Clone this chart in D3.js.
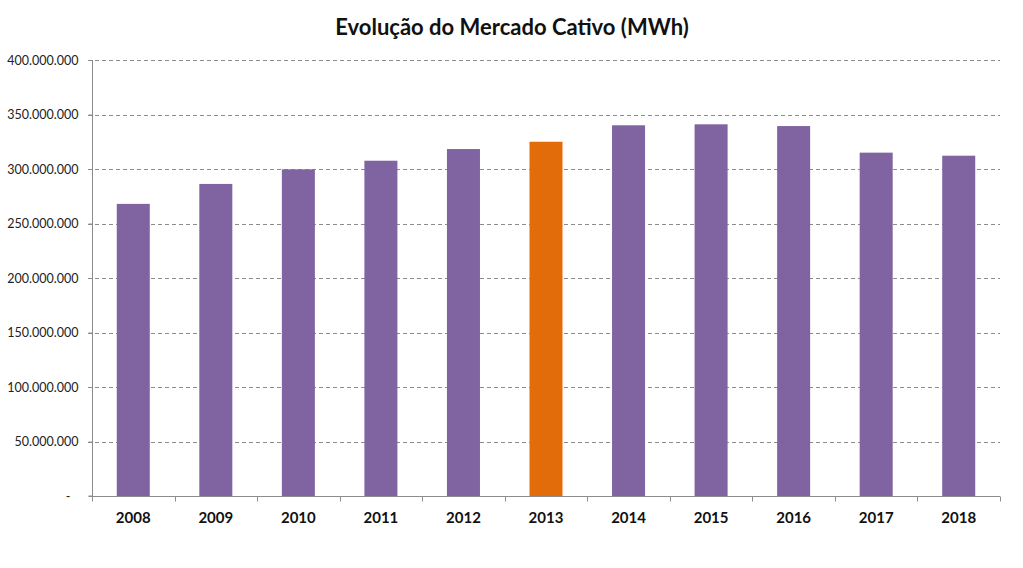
<!DOCTYPE html>
<html><head><meta charset="utf-8">
<script src="https://cdn.jsdelivr.net/npm/d3@7"></script>
<style>body{margin:0;background:#fff}svg{display:block}</style>
</head><body>
<svg id="c" width="1023" height="568"></svg>
<script>
const years = ["2008","2009","2010","2011","2012","2013","2014","2015","2016","2017","2018"];
const values = [268000000,286300000,299700000,307600000,318300000,325000000,340100000,341000000,339400000,315000000,312200000];
const highlightYear = "2013";
const yTicks = [0,50000000,100000000,150000000,200000000,250000000,300000000,350000000,400000000];
const title = "Evolução do Mercado Cativo (MWh)";

const svg = d3.select("#c");
const font = "Lato, 'Open Sans', sans-serif";
const m = {left:92, right:1000, top:60, bottom:496};
const x = d3.scaleBand().domain(years).range([m.left, m.right]).paddingInner(0.6).paddingOuter(0.3);
const y = d3.scaleLinear().domain([0,400000000]).range([m.bottom, m.top]);

const fmt = v => v === 0 ? "-" : d3.format(",")(v).replace(/,/g, ".");

// gridlines
svg.append("g").selectAll("line").data(yTicks.filter(d=>d>0)).join("line")
  .attr("x1", m.left - 4).attr("x2", m.right)
  .attr("y1", d=>Math.round(y(d))+0.5).attr("y2", d=>Math.round(y(d))+0.5)
  .attr("stroke", "#8c8c8c").attr("stroke-dasharray", "4,3").attr("stroke-width", 1);

// y axis
const ya = d3.axisLeft(y).tickValues(yTicks).tickFormat(fmt).tickSize(4).tickPadding(10);
const yg = svg.append("g").attr("transform", `translate(${m.left+0.5},0)`).call(ya);
yg.select(".domain").attr("stroke", "#8c8c8c").attr("d", `M-4,${m.bottom}H0V${m.top}`);
yg.selectAll(".tick line").attr("stroke", "#8c8c8c");
yg.selectAll("text").attr("font-family", font).attr("font-size", 12.5).attr("fill", "#222");
yg.selectAll(".tick").filter(d=>d===0).select("text").attr("dx", -8);

// bars
svg.append("g").selectAll("rect").data(years).join("rect")
  .attr("x", d=>x(d)).attr("width", x.bandwidth())
  .attr("y", (d,i)=>y(values[i])).attr("height", (d,i)=>y(0)-y(values[i]))
  .attr("fill", d=> d===highlightYear ? "#e36c0a" : "#8064a2");

// x axis
const xa = d3.axisBottom(x).tickSize(0).tickPadding(16);
const xg = svg.append("g").attr("transform", `translate(0,${m.bottom+0.5})`).call(xa);
xg.select(".domain").attr("stroke", "#8c8c8c").attr("d", `M${m.left},0H${m.right}`);
xg.selectAll("text").attr("font-family", font).attr("font-size", 15).attr("font-weight", "bold").attr("fill", "#111");
const bounds = d3.range(years.length+1).map(i => m.left + i*(m.right-m.left)/years.length);
xg.append("g").selectAll("line").data(bounds).join("line")
  .attr("x1", d=>Math.round(d)+0.5).attr("x2", d=>Math.round(d)+0.5).attr("y1", 0).attr("y2", 5)
  .attr("stroke", "#8c8c8c");

// title
svg.append("text").attr("x", 512).attr("y", 35).attr("text-anchor", "middle")
  .attr("font-family", font).attr("font-weight", "bold").attr("font-size", 22).attr("fill", "#111")
  .text(title);
</script>
</body></html>
